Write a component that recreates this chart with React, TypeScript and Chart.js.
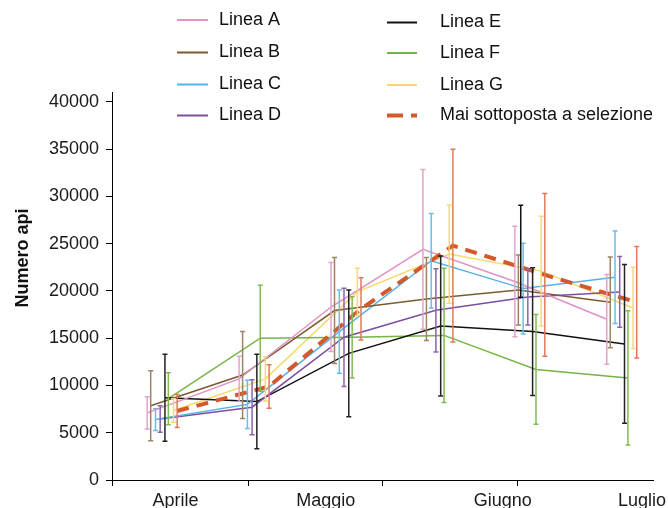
import React, { useEffect, useRef } from 'react';
import { Chart, registerables } from 'chart.js';

Chart.register(...registerables);

// ---------- DATA ----------
const campionamenti = [1, 2, 3, 4, 5, 6];

const nomiSerie = [
  'Linea A',
  'Linea B',
  'Linea C',
  'Linea D',
  'Linea E',
  'Linea F',
  'Linea G',
  'Mai sottoposta a selezione',
];

const mediaA = [7100, 10700, 18300, 24400, 21000, 17000];
const erroreA = [1700, 2400, 4700, 8450, 5850, 4750];

const mediaB = [7850, 11100, 17930, 19150, 20100, 18800];
const erroreB = [3700, 4600, 5600, 4400, 3700, 4800];

const mediaC = [6400, 8000, 15700, 23200, 20250, 21450];
const erroreC = [1150, 2550, 4400, 5000, 4800, 4900];

const mediaD = [6450, 7700, 15100, 17950, 19350, 19900];
const erroreD = [1400, 2900, 5200, 4400, 2950, 3750];

const mediaE = [8700, 8300, 13400, 16300, 15700, 14400];
const erroreE = [4600, 5000, 6700, 7400, 6750, 8400];

const mediaF = [8600, 15000, 15100, 15300, 11700, 10800];
const erroreF = [2750, 5600, 4300, 7100, 5800, 7100];

const mediaG = [7350, 10700, 19900, 23900, 22100, 18200];
const erroreG = [1250, 2350, 2500, 5200, 5800, 4300];

const mediaMai = [7300, 9900, 18100, 24800, 21700, 18800];
const erroreMai = [1750, 2300, 3300, 10200, 8600, 5900];

// stray black error bar visible at the 5th sampling
const extraCampionamento = [5];
const extraMedia = [24200];
const extraErrore = [4860];

const mesi = ['Aprile', 'Maggio', 'Giugno', 'Luglio'];
const yTickValues = [0, 5000, 10000, 15000, 20000, 25000, 30000, 35000, 40000];

// ---------- STYLE / LAYOUT ----------
const medie = [mediaA, mediaB, mediaC, mediaD, mediaE, mediaF, mediaG, mediaMai];
const errori = [erroreA, erroreB, erroreC, erroreD, erroreE, erroreF, erroreG, erroreMai];
const lineColors = ['#e291c4', '#7b5b30', '#56b1e6', '#7c4ea1', '#111111', '#76b443', '#f6d86b', '#d4582b'];
const errColors = ['#e4a3cb', '#9c8462', '#6bbde9', '#8b64ad', '#222222', '#82bb55', '#f5d97a', '#e07a5b'];
const dodge = [-0.163, -0.125, -0.073, -0.022, 0.03, 0.067, 0.123, 0.163];
const extraDodge = -0.099;

const X_MIN = -0.546;
const X_MAX = 5.34;
const monthLabelPos = [0.145, 1.78, 3.705, 5.22];
const monthTickPos = [X_MIN, 0.934, 2.397, 3.863];
const Y_MAX = 41050;

const FONT = 'Arial, "Liberation Sans", sans-serif';

const errorBarPlugin = {
  id: 'errorBars',
  afterDatasetsDraw(chart: any) {
    const ctx = chart.ctx;
    const ys = chart.scales.y;
    chart.data.datasets.forEach((ds: any, i: number) => {
      if (!ds.errors) return;
      const meta = chart.getDatasetMeta(i);
      meta.data.forEach((pt: any, j: number) => {
        const v = ds.data[j].y;
        const e = ds.errors[j];
        const x = pt.x;
        const yt = ys.getPixelForValue(v + e);
        const yb = ys.getPixelForValue(v - e);
        ctx.save();
        ctx.strokeStyle = ds.errorColor;
        ctx.lineWidth = 1.5;
        ctx.beginPath();
        ctx.moveTo(x, yt);
        ctx.lineTo(x, yb);
        ctx.moveTo(x - 2.5, yt);
        ctx.lineTo(x + 2.5, yt);
        ctx.moveTo(x - 2.5, yb);
        ctx.lineTo(x + 2.5, yb);
        ctx.stroke();
        ctx.restore();
      });
    });
  },
};

const legendPlugin = {
  id: 'customLegend',
  afterDraw(chart: any) {
    const ctx = chart.ctx;
    ctx.save();
    // y axis title
    ctx.save();
    ctx.translate(23, 258);
    ctx.rotate(-Math.PI / 2);
    ctx.font = `bold 18px ${FONT}`;
    ctx.fillStyle = '#111';
    ctx.textAlign = 'center';
    ctx.textBaseline = 'middle';
    ctx.fillText('Numero api', 0, 0);
    ctx.restore();

    const cols = [
      { lx0: 177, lx1: 208, tx: 219, rows: [20, 52.5, 84.5, 115.5] },
      { lx0: 387, lx1: 417, tx: 440, rows: [22.5, 53, 85, 115.5] },
    ];
    nomiSerie.forEach((name, i) => {
      const c = cols[i < 4 ? 0 : 1];
      const y = c.rows[i % 4];
      ctx.save();
      ctx.strokeStyle = lineColors[i];
      if (i === 7) {
        ctx.lineWidth = 4;
        ctx.setLineDash([16, 8]);
      } else {
        ctx.lineWidth = 2;
      }
      ctx.beginPath();
      ctx.moveTo(c.lx0, y);
      ctx.lineTo(c.lx1, y);
      ctx.stroke();
      ctx.restore();
      ctx.font = `18px ${FONT}`;
      ctx.fillStyle = '#111';
      ctx.textAlign = 'left';
      ctx.textBaseline = 'middle';
      ctx.fillText(name, c.tx, y);
    });
    ctx.restore();
  },
};

export default function App() {
  const ref = useRef<HTMLCanvasElement | null>(null);

  useEffect(() => {
    if (!ref.current) return;
    const datasets: any[] = nomiSerie.map((name, s) => ({
      label: name,
      data: campionamenti.map((c, j) => ({ x: c - 1 + dodge[s], y: medie[s][j] })),
      errors: errori[s],
      errorColor: errColors[s],
      borderColor: lineColors[s],
      backgroundColor: lineColors[s],
      borderWidth: s === 7 ? 4 : 1.5,
      borderDash: s === 7 ? [12, 8] : [],
      pointRadius: 0,
      tension: 0,
      fill: false,
      order: s === 7 ? 0 : 1,
    }));
    datasets.push({
      label: 'extra',
      data: extraCampionamento.map((c, j) => ({ x: c - 1 + extraDodge, y: extraMedia[j] })),
      errors: extraErrore,
      errorColor: '#111111',
      showLine: false,
      pointRadius: 0,
      borderColor: '#111111',
      order: 2,
    });

    const labelSet = new Map<number, string>();
    monthLabelPos.forEach((p, i) => labelSet.set(p, mesi[i]));

    const chart = new Chart(ref.current, {
      type: 'line',
      data: { datasets },
      plugins: [errorBarPlugin, legendPlugin],
      options: {
        animation: false,
        responsive: false,
        layout: { padding: { top: 92, right: 15, left: 0, bottom: 0 } },
        plugins: { legend: { display: false }, tooltip: { enabled: false }, title: { display: false } },
        scales: {
          x: {
            type: 'linear',
            min: X_MIN,
            max: X_MAX,
            afterBuildTicks: (axis: any) => {
              const vals = [...monthTickPos, ...monthLabelPos].sort((a, b) => a - b);
              axis.ticks = vals.map((v) => ({ value: v }));
            },
            afterFit: (axis: any) => {
              axis.height = 28;
              axis.paddingLeft = 0;
              axis.paddingRight = 0;
            },
            border: { display: true, color: '#000', width: 1 },
            grid: {
              drawOnChartArea: false,
              drawTicks: true,
              tickLength: 6,
              tickColor: (ctx: any) => (ctx.tick && labelSet.has(ctx.tick.value) ? 'rgba(0,0,0,0)' : '#000'),
              tickWidth: 1,
            },
            ticks: {
              autoSkip: false,
              maxRotation: 0,
              minRotation: 0,
              padding: 4,
              color: '#1a1a1a',
              font: { family: FONT, size: 18 },
              callback: (v: any) => labelSet.get(v) ?? '',
            },
          },
          y: {
            type: 'linear',
            min: 0,
            max: Y_MAX,
            afterBuildTicks: (axis: any) => {
              axis.ticks = yTickValues.map((v) => ({ value: v }));
            },
            afterFit: (axis: any) => {
              axis.width = 112;
              axis.paddingTop = 0;
              axis.paddingBottom = 0;
            },
            border: { display: true, color: '#000', width: 1 },
            grid: {
              drawOnChartArea: false,
              drawTicks: true,
              tickLength: 6,
              tickColor: '#000',
            },
            ticks: {
              padding: 7,
              color: '#1a1a1a',
              font: { family: FONT, size: 18 },
              callback: (v: any) => String(v),
            },
          },
        },
      } as any,
    });
    return () => chart.destroy();
  }, []);

  return (
    <div style={{ position: 'fixed', left: 0, top: 0, width: 668, height: 508, background: '#fff' }}>
      <canvas ref={ref} width={668} height={508} style={{ display: 'block' }} />
    </div>
  );
}
